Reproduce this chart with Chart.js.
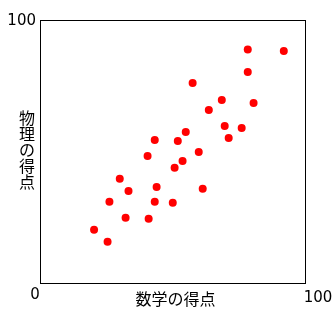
<!DOCTYPE html>
<html>
<head>
<meta charset="utf-8">
<script src="https://cdn.jsdelivr.net/npm/chart.js@4.4.0/dist/chart.umd.min.js"></script>
<style>
  html, body { margin: 0; padding: 0; background: #fff; }
  #wrap { position: relative; width: 334px; height: 317px; }
</style>
</head>
<body>
<div id="wrap"><canvas id="chart"></canvas></div>
<script>
// scores
const mathScores = [78.4, 92.0, 78.4, 57.6, 68.6, 80.6, 63.7, 69.7, 76.1, 55.0,
  71.2, 52.0, 43.3, 59.9, 40.6, 53.8, 50.8, 30.1, 44.0, 61.4,
  33.4, 26.2, 43.3, 50.1, 32.3, 41.0, 20.4, 25.5];
const physicsScores = [88.8, 88.2, 80.2, 76.0, 69.6, 68.4, 65.8, 59.7, 58.9, 57.4,
  55.1, 54.0, 54.4, 49.8, 48.3, 46.4, 43.8, 39.6, 36.5, 35.8,
  35.0, 30.9, 30.9, 30.5, 24.8, 24.4, 20.2, 15.7];
const axisMin = 0;
const axisMax = 100;
const xTitle = "数学の得点";
const yTitle = "物理の得点";

const points = mathScores.map((x, i) => ({ x: x, y: physicsScores[i] }));

const numFont = '15px "DejaVu Sans", sans-serif';
const jpFont = '16px "Noto Sans CJK JP", sans-serif';

// frame, corner labels and axis titles
const framePlugin = {
  id: 'frame',
  beforeDatasetsDraw(chart) {
    const { ctx, chartArea: a, scales } = chart;
    ctx.save();
    ctx.strokeStyle = '#000';
    ctx.lineWidth = 1;
    ctx.strokeRect(a.left + 0.5, a.top + 0.5, a.right - a.left, a.bottom - a.top);
    ctx.restore();
  },
  afterDraw(chart) {
    const { ctx, chartArea: a, scales } = chart;
    const xs = scales.x, ys = scales.y;
    ctx.save();
    ctx.fillStyle = '#000';
    ctx.textBaseline = 'middle';

    ctx.font = numFont;
    ctx.textAlign = 'right';
    ctx.fillText(String(axisMax), a.left - 4, ys.getPixelForValue(axisMax) + 1);
    ctx.textAlign = 'center';
    ctx.fillText(String(axisMin), xs.getPixelForValue(axisMin) - 5, a.bottom + 12);
    ctx.fillText(String(axisMax), xs.getPixelForValue(axisMax) + 13, a.bottom + 15);

    ctx.font = jpFont;
    ctx.fillText(xTitle, (a.left + a.right) / 2 + 3, a.bottom + 16);
    const chars = Array.from(yTitle);
    chars.forEach((c, i) => {
      ctx.fillText(c, 27, 118 + i * 16);
    });
    ctx.restore();
  }
};

new Chart(document.getElementById('chart'), {
  type: 'scatter',
  data: {
    datasets: [{
      data: points,
      backgroundColor: '#ff0000',
      borderColor: '#ff0000',
      borderWidth: 0,
      pointRadius: 4,
      pointHoverRadius: 4
    }]
  },
  options: {
    responsive: true,
    maintainAspectRatio: false,
    animation: false,
    events: [],
    layout: { padding: { left: 40, top: 20, right: 29, bottom: 34 } },
    scales: {
      x: { type: 'linear', min: axisMin, max: axisMax, display: false },
      y: { type: 'linear', min: axisMin, max: axisMax, display: false }
    },
    plugins: {
      legend: { display: false },
      tooltip: { enabled: false }
    }
  },
  plugins: [framePlugin]
});
</script>
</body>
</html>
